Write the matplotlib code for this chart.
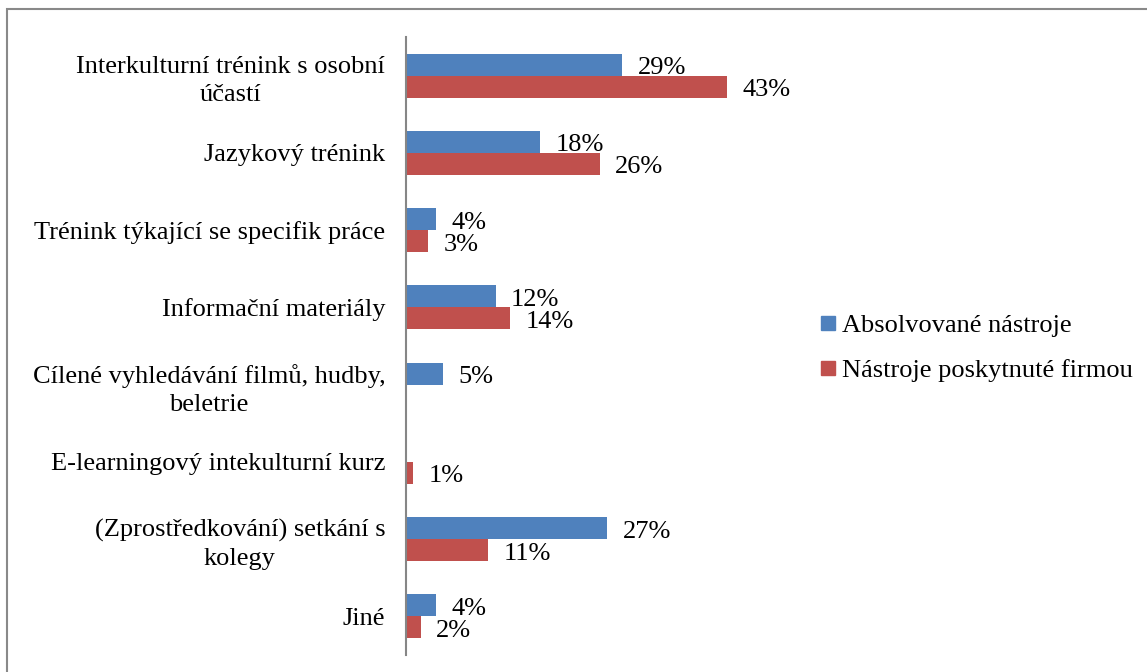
import matplotlib
matplotlib.use("Agg")
import matplotlib.pyplot as plt
from matplotlib.patches import Rectangle
from matplotlib.lines import Line2D
import numpy as np

plt.rcParams['font.family'] = ['Liberation Serif', 'DejaVu Serif']

kategorie = [
    "Interkulturní trénink s osobní\núčastí",
    "Jazykový trénink",
    "Trénink týkající se specifik práce",
    "Informační materiály",
    "Cílené vyhledávání filmů, hudby,\nbeletrie",
    "E-learningový intekulturní kurz",
    "(Zprostředkování) setkání s\nkolegy",
    "Jiné",
]
absolvovane = [29, 18, 4, 12, 5, None, 27, 4]
poskytnute = [43, 26, 3, 14, None, 1, 11, 2]
serie = ["Absolvované nástroje", "Nástroje poskytnuté firmou"]
barvy = ["#4F81BD", "#C0504D"]

fs = 19

fig = plt.figure(figsize=(11.47, 6.72), dpi=100)
ax = fig.add_axes([406 / 1147, 1 - 655 / 672, 373 / 1147, 618 / 672])

y = np.arange(len(kategorie))
h = 0.285
for hodnoty, barva, posun in [(absolvovane, barvy[0], -h / 2), (poskytnute, barvy[1], h / 2)]:
    for yi, v in zip(y, hodnoty):
        if v is None:
            continue
        ax.barh(yi + posun, v, height=h, color=barva)
        ax.annotate(f"{v}%", (v, yi + posun), xytext=(11, -2.5), textcoords="offset points",
                    va="center", ha="left", fontsize=fs)

ax.set_xlim(0, 50)
ax.set_ylim(len(kategorie) - 0.5, -0.5)
ax.set_yticks(y)
ax.set_yticklabels(kategorie, fontsize=fs, multialignment="center", linespacing=1.35)
ax.tick_params(axis="y", length=0, pad=15)
ax.set_xticks([])
for s in ["top", "right", "bottom"]:
    ax.spines[s].set_visible(False)
ax.spines["left"].set_color("#868686")
ax.spines["left"].set_linewidth(1.5)

handles = [Line2D([], [], marker="s", linestyle="", markersize=10, color=c) for c in barvy]
fig.legend(handles, serie, loc="center left", bbox_to_anchor=(796.5 / 1147, 1 - 348 / 672),
           frameon=False, fontsize=fs, handletextpad=0.23, handlelength=0.6,
           labelspacing=0.8)

# outer chart frame
fig.patches.append(Rectangle((7.5 / 1147, -0.1), 1.2, 1 - 8.5 / 672 + 0.1,
                             transform=fig.transFigure, fill=False,
                             edgecolor="#898989", linewidth=1.5))

fig.savefig("out.png", dpi=100)
